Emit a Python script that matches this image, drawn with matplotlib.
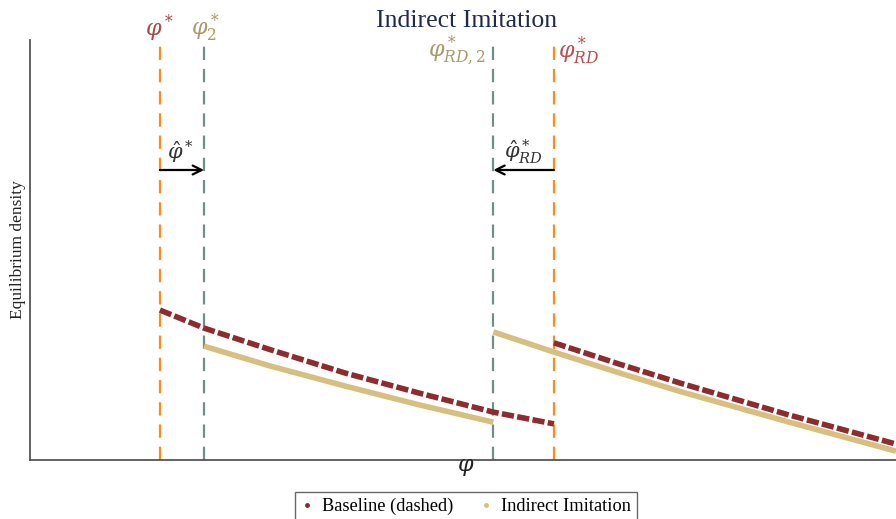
import matplotlib
matplotlib.use("Agg")
import matplotlib.pyplot as plt

plt.rcParams['mathtext.fontset'] = 'dejavuserif'
serif = ['Liberation Serif', 'DejaVu Serif']

# thresholds (x positions of vertical lines)
phi_star = 1.50
phi2_star = 2.01
phiRD2_star = 5.35
phiRD_star = 6.05

# Baseline (dashed) segments
base1_x = [1.50, 2.01, 2.77, 3.64, 4.50, 5.35, 6.05]
base1_y = [0.357, 0.314, 0.263, 0.207, 0.159, 0.114, 0.086]
base2_x = [6.05, 6.78, 7.51, 8.75, 10.0]
base2_y = [0.279, 0.230, 0.183, 0.108, 0.038]

# Indirect imitation segments
ind1_x = [2.01, 2.77, 3.64, 4.50, 5.35]
ind1_y = [0.271, 0.224, 0.176, 0.131, 0.090]
ind2_x = [5.35, 6.05, 6.78, 7.51, 8.75, 10.0]
ind2_y = [0.305, 0.257, 0.209, 0.163, 0.091, 0.021]

RED = '#8E2B2E'
TAN = '#D6BF7F'
ORANGE = '#FF8C1A'
GREEN = '#6F9088'

fig = plt.figure(figsize=(8.96, 5.19), dpi=100)
ax = fig.add_axes([30/896, 59/519, 866/896, 420/519])
ax.set_xlim(0, 10)
ax.set_ylim(0, 1)

for x, c in [(phi_star, ORANGE), (phi2_star, GREEN), (phiRD2_star, GREEN), (phiRD_star, ORANGE)]:
    ax.axvline(x, color=c, lw=1.6, ls=(0, (6, 4)), zorder=1)

ax.plot(ind1_x, ind1_y, color=TAN, lw=4, solid_capstyle='butt', solid_joinstyle='round', zorder=2)
ax.plot(ind2_x, ind2_y, color=TAN, lw=4, solid_capstyle='butt', solid_joinstyle='round', zorder=2)
ax.plot(base1_x, base1_y, color=RED, lw=4, ls=(0, (2.2, 0.6)), zorder=3)
ax.plot(base2_x, base2_y, color=RED, lw=4, ls=(0, (2.2, 0.6)), zorder=3)

# legend handles
ax.plot([], [], ls='none', marker='o', ms=2.5, color=RED, label='Baseline (dashed)')
ax.plot([], [], ls='none', marker='o', ms=2.5, color=TAN, label='Indirect Imitation')

for s in ['top', 'right']:
    ax.spines[s].set_visible(False)
for s in ['left', 'bottom']:
    ax.spines[s].set_color('#555555')
    ax.spines[s].set_linewidth(1.3)
ax.set_xticks([])
ax.set_yticks([])

tr = ax.get_xaxis_transform()
ax.text(phi_star, 1.028, r'$\varphi^*$', color='#A84848', fontsize=16, ha='center', va='center', transform=tr, clip_on=False)
ax.text(phi2_star + 0.02, 1.028, r'$\varphi_2^*$', color='#A89A6A', fontsize=16, ha='center', va='center', transform=tr, clip_on=False)
ax.text(phiRD2_star - 0.08, 0.975, r'$\varphi_{RD,2}^*$', color='#A89A6A', fontsize=16, ha='right', va='center', transform=tr, clip_on=False)
ax.text(phiRD_star + 0.05, 0.975, r'$\varphi_{RD}^*$', color='#B85050', fontsize=16, ha='left', va='center', transform=tr, clip_on=False)

arrow_y = (460 - 170) / 420
ax.annotate('', xy=(phi2_star, arrow_y), xytext=(phi_star, arrow_y),
            arrowprops=dict(arrowstyle='->', color='black', lw=1.6, shrinkA=0, shrinkB=0, mutation_scale=16))
ax.annotate('', xy=(phiRD2_star, arrow_y), xytext=(phiRD_star, arrow_y),
            arrowprops=dict(arrowstyle='->', color='black', lw=1.6, shrinkA=0, shrinkB=0, mutation_scale=16))
ax.text((phi_star + phi2_star) / 2 - 0.02, (460 - 152) / 420, r'$\hat{\varphi}^*$', color='#333333', fontsize=15, ha='center', va='center')
ax.text((phiRD2_star + phiRD_star) / 2, (460 - 152) / 420, r'$\hat{\varphi}^*_{RD}$', color='#333333', fontsize=15, ha='center', va='center')

fig.text(467/896, 1 - 21/519, 'Indirect Imitation', family=serif, fontsize=18.5, color='#1F2A4F', ha='center', va='center')
fig.text(18/896, 1 - 250/519, 'Equilibrium density', family=serif, fontsize=12.5, color='#222222', rotation=90, ha='center', va='center')
fig.text(466/896, 1 - 467/519, r'$\varphi$', fontsize=16, color='#222222', ha='center', va='center')

leg = fig.legend(loc='upper center', bbox_to_anchor=(466/896, 1 - 486/519), ncol=2,
                 prop={'family': serif, 'size': 13.2}, frameon=True, fancybox=False,
                 edgecolor='#444444', handlelength=0.6, handletextpad=0.5, columnspacing=1.5,
                 borderpad=0.35, borderaxespad=0.3)
leg.get_frame().set_linewidth(1.0)

fig.savefig('out.png', dpi=100)
